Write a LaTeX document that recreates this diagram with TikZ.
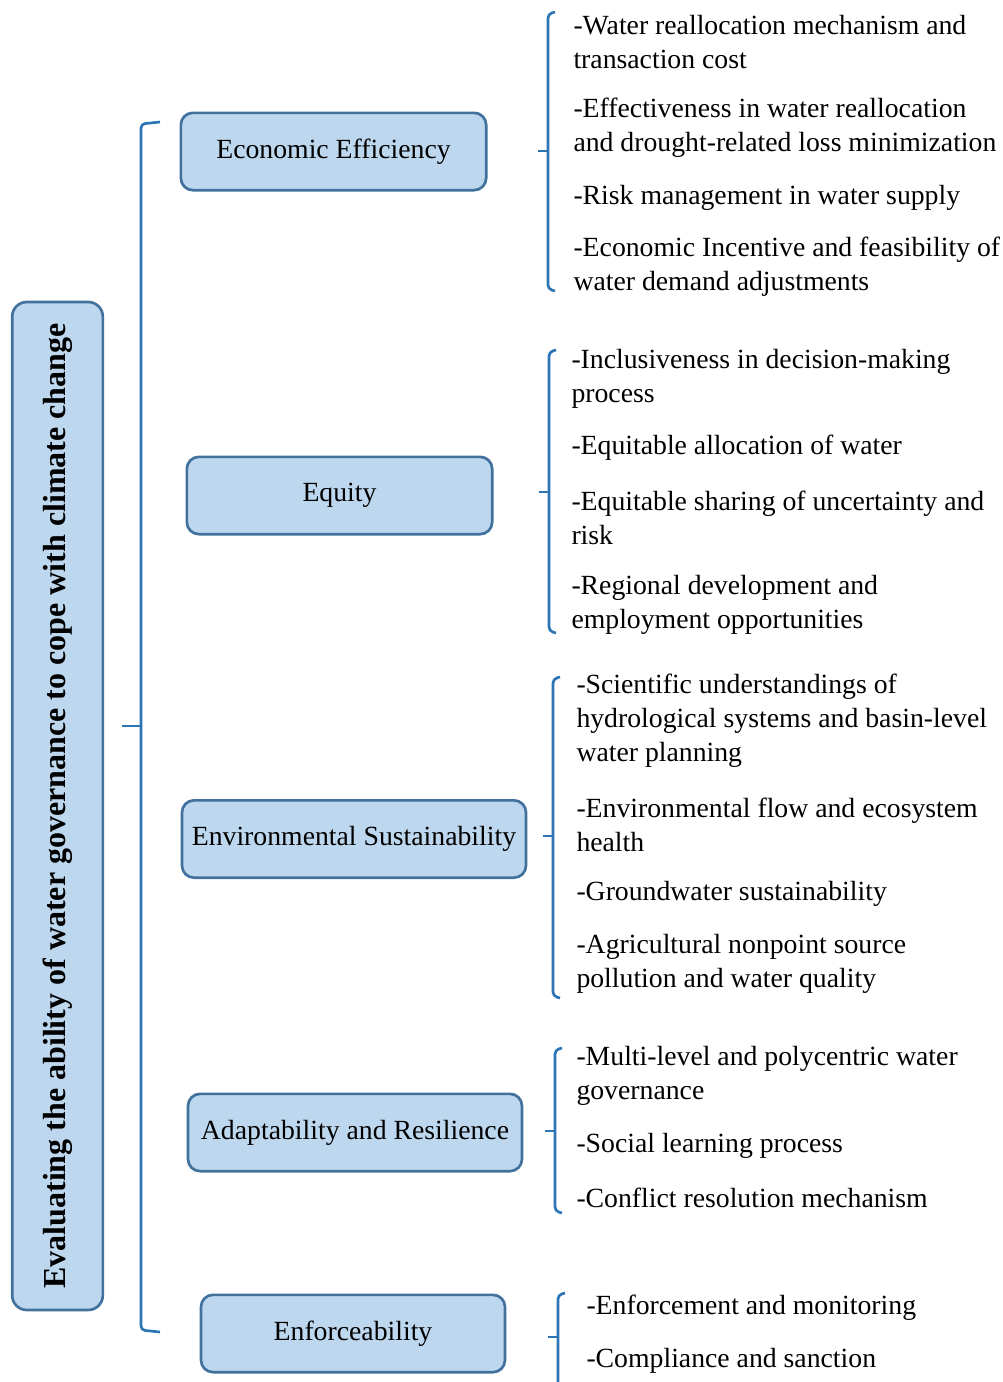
\documentclass[tikz,border=0pt]{standalone}
\usepackage{fontspec}
\setmainfont{Liberation Serif}

\definecolor{boxfill}{RGB}{189,215,238}
\definecolor{boxline}{RGB}{65,113,156}
\definecolor{bracecol}{RGB}{46,117,182}

\tikzset{every picture/.style={line width=0.75pt}}
\tikzset{
  mainbox/.style={draw=boxline, fill=boxfill, line width=2pt, rounded corners=11pt,
    minimum width=68pt, minimum height=756pt, inner sep=0pt},
  critbox/.style={draw=boxline, fill=boxfill, line width=2pt, rounded corners=9pt,
    minimum height=58pt, inner sep=0pt, font=\fontsize{20.8}{24}\selectfont},
  itemtext/.style={anchor=west, align=left, inner sep=0pt,
    font=\fontsize{20.8}{25.5}\selectfont},
  bracket/.style={draw=bracecol, line width=2pt, rounded corners=3pt},
}

\begin{document}
\begin{tikzpicture}[x=0.75pt,y=0.75pt,yscale=-1,xscale=1]
        \useasboundingbox (0,0) rectangle (1003,1382);

        %Shape: Rounded Rect, main goal
        \node [mainbox] (goal) at (57.5,806) {};
        \node [rotate=90, font=\fontsize{24}{28}\selectfont\bfseries] (goaltext) at (goal.center) {Evaluating the ability of water governance to cope with climate change};

        %Shape: Brace, main
        \draw [bracket] (160,122) -- (141,124) -- (141,1330) -- (160,1332) ;
        \draw [bracket, rounded corners=0pt] (141,726) -- (122,726) ;

        %Shape: Rounded Rect, criteria
        \node [critbox, minimum width=229pt] (econ) at (333.5,151.5) {Economic Efficiency};
        \node [critbox, minimum width=229pt] (equity) at (339.5,495.5) {Equity};
        \node [critbox, minimum width=258pt] (envsus) at (354,839) {Environmental Sustainability};
        \node [critbox, minimum width=250.5pt] (adapt) at (355,1132.5) {Adaptability and Resilience};
        \node [critbox, minimum width=228pt] (enforce) at (353,1333.5) {Enforceability};

        %Shape: Braces, indicators
        \draw [bracket] (555,12) -- (548,14) -- (548,289) -- (555,291) ;
        \draw [bracket, rounded corners=0pt] (548,151) -- (538,151) ;
        \draw [bracket] (556,350) -- (549,352) -- (549,631) -- (556,633) ;
        \draw [bracket, rounded corners=0pt] (549,492) -- (539,492) ;
        \draw [bracket] (560,677) -- (553,679) -- (553,996) -- (560,998) ;
        \draw [bracket, rounded corners=0pt] (553,836) -- (543,836) ;
        \draw [bracket] (562,1048) -- (555,1050) -- (555,1211) -- (562,1213) ;
        \draw [bracket, rounded corners=0pt] (555,1131) -- (545,1131) ;
        \draw [bracket] (565,1293) -- (558,1295) -- (558,1390) ;
        \draw [bracket, rounded corners=0pt] (558,1337) -- (548,1337) ;

        %Text: Economic Efficiency indicators
        \node [itemtext] (econa) at (573,42) {-Water reallocation mechanism and\\transaction cost};
        \node [itemtext] (econb) at (573,128) {-Effectiveness in water reallocation\\and drought-related loss minimization};
        \node [itemtext] (econc) at (573,198) {-Risk management in water supply};
        \node [itemtext] (econd) at (573,267) {-Economic Incentive and feasibility of\\water demand adjustments};

        %Text: Equity indicators
        \node [itemtext] (equa) at (571,379) {-Inclusiveness in decision-making\\process};
        \node [itemtext] (equb) at (571,448) {-Equitable allocation of water};
        \node [itemtext] (equc) at (571,518) {-Equitable sharing of uncertainty and\\risk};
        \node [itemtext] (equd) at (571,605) {-Regional development and\\employment opportunities};

        %Text: Environmental Sustainability indicators
        \node [itemtext] (enva) at (576,721) {-Scientific understandings of\\hydrological systems and basin-level\\water planning};
        \node [itemtext] (envb) at (576,825) {-Environmental flow and ecosystem\\health};
        \node [itemtext] (envc) at (576,894) {-Groundwater sustainability};
        \node [itemtext] (envd) at (576,964) {-Agricultural nonpoint source\\pollution and water quality};

        %Text: Adaptability and Resilience indicators
        \node [itemtext] (adaa) at (576,1076) {-Multi-level and polycentric water\\governance};
        \node [itemtext] (adab) at (576,1146) {-Social learning process};
        \node [itemtext] (adac) at (576,1198) {-Conflict resolution mechanism};

        %Text: Enforceability indicators
        \node [itemtext] (enfa) at (586,1308) {-Enforcement and monitoring};
        \node [itemtext] (enfb) at (586,1361) {-Compliance and sanction};

    \end{tikzpicture}
\end{document}
